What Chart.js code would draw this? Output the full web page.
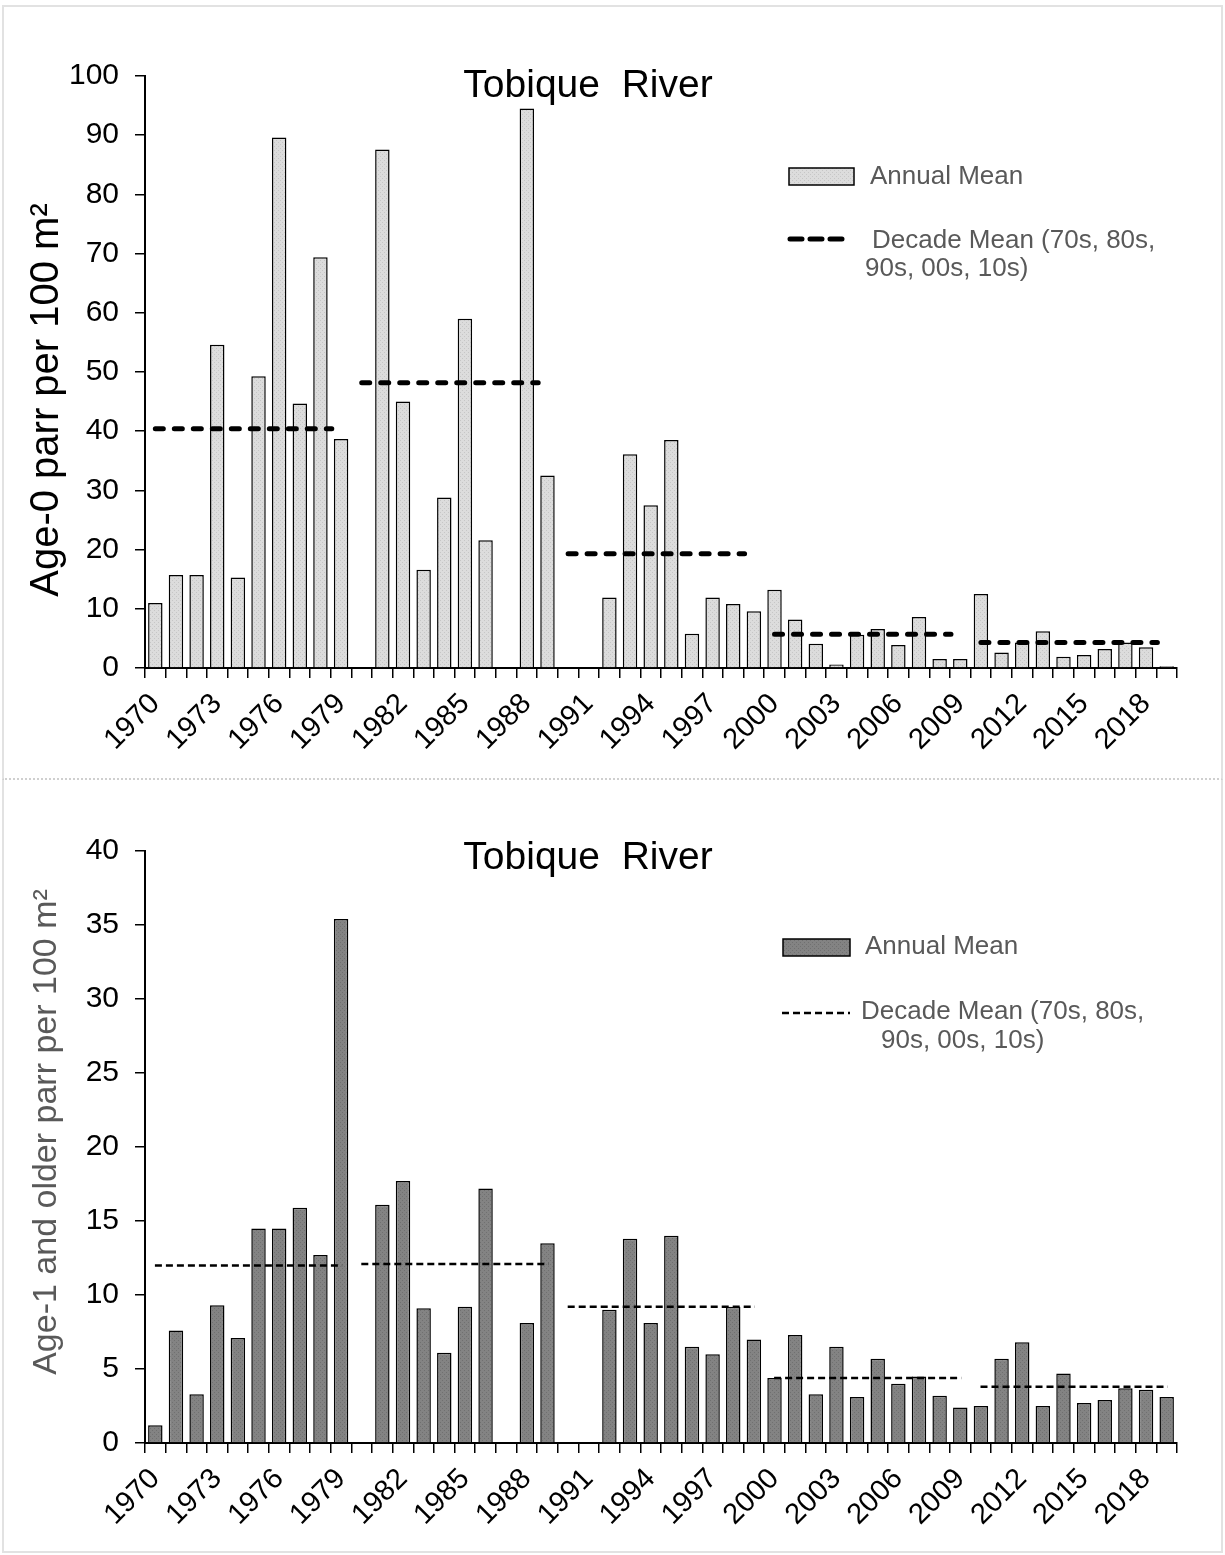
<!DOCTYPE html>
<html>
<head>
<meta charset="utf-8">
<title>Tobique River parr densities</title>
<script src="https://cdn.jsdelivr.net/npm/chart.js@4.4.1/dist/chart.umd.min.js"></script>
<style>
  body { margin: 0; background: #fff; }
  #wrap { position: relative; width: 1225px; height: 1555px; overflow: hidden; }
  canvas { position: absolute; left: 0; }
  #c1 { top: 0; }
  #c2 { top: 778px; }
  .frame { position: absolute; pointer-events: none; box-sizing: border-box; }
  #f1 { left: 2px; top: 5px; width: 1221px; height: 775px;
        border: 2px solid #e2e2e2; border-bottom: 2px dotted #cfcfcf; }
  #f2 { left: 2px; top: 780px; width: 1221px; height: 773px;
        border: 2px solid #e2e2e2; border-top: none; }
</style>
</head>
<body>
<div id="wrap">
  <canvas id="c1" width="1225" height="778"></canvas>
  <canvas id="c2" width="1225" height="777"></canvas>
  <div class="frame" id="f1"></div>
  <div class="frame" id="f2"></div>
</div>
<script>
// Survey years (category axis)
const years = [
  1970, 1971, 1972, 1973, 1974, 1975, 1976, 1977, 1978, 1979,
  1980, 1981, 1982, 1983, 1984, 1985, 1986, 1987, 1988, 1989,
  1990, 1991, 1992, 1993, 1994, 1995, 1996, 1997, 1998, 1999,
  2000, 2001, 2002, 2003, 2004, 2005, 2006, 2007, 2008, 2009,
  2010, 2011, 2012, 2013, 2014, 2015, 2016, 2017, 2018, 2019
];

// Age-0 parr per 100 m² (annual mean); null = no survey
const age0Annual = [
  11.0, 15.7, 15.7, 54.6, 15.3, 49.3, 89.6, 44.7, 69.4, 38.7,
  null, 87.6, 45.0, 16.6, 28.8, 59.0, 21.6, null, 94.5, 32.5,
  null, null, 11.9, 36.1, 27.5, 38.5, 5.8, 11.9, 10.8, 9.6,
  13.2, 8.2, 4.1, 0.6, 5.6, 6.6, 3.9, 8.6, 1.5, 1.5,
  12.5, 2.6, 4.3, 6.2, 1.9, 2.2, 3.2, 4.3, 3.5, 0.3
];

// Age-1 and older parr per 100 m² (annual mean)
const age1Annual = [
  1.2, 7.6, 3.3, 9.3, 7.1, 14.5, 14.5, 15.9, 12.7, 35.4,
  null, 16.1, 17.7, 9.1, 6.1, 9.2, 17.2, null, 8.1, 13.5,
  null, null, 9.0, 13.8, 8.1, 14.0, 6.5, 6.0, 9.2, 7.0,
  4.4, 7.3, 3.3, 6.5, 3.1, 5.7, 4.0, 4.5, 3.2, 2.4,
  2.5, 5.7, 6.8, 2.5, 4.7, 2.7, 2.9, 3.7, 3.6, 3.1
];

// Decade means (70s, 80s, 90s, 00s, 10s)
const decadeFirstYears = [1970, 1980, 1990, 2000, 2010];
const age0Decade = [40.4, 48.2, 19.3, 5.7, 4.3];
const age1Decade = [12.0, 12.1, 9.2, 4.4, 3.8];

// Y-axis tick settings
const age0Ticks = { min: 0, max: 100, step: 10 };
const age1Ticks = { min: 0, max: 40, step: 5 };

const FONT = '"Liberation Sans", Arial, Helvetica, sans-serif';

// Fine stippled fill used for the bars
function stipple(base, dot) {
  const c = document.createElement('canvas');
  c.width = 4; c.height = 4;
  const g = c.getContext('2d');
  g.fillStyle = base;
  g.fillRect(0, 0, 4, 4);
  g.fillStyle = dot;
  g.fillRect(0, 0, 1, 1);
  g.fillRect(2, 2, 1, 1);
  return g.createPattern(c, 'repeat');
}

// Horizontal segment for each decade mean, drawn on a hidden linear x axis
function decadeSegments(means, startOff, endOff) {
  return decadeFirstYears.map((y, k) => {
    const i = years.indexOf(y);
    return [{ x: i + startOff, y: means[k] }, { x: i + endOff, y: means[k] }];
  });
}

// Draws the in-plot title, the rotated y-axis title and the legend block
const overlayPlugin = {
  id: 'overlay',
  afterDraw(chart, args, o) {
    const ctx = chart.ctx;
    ctx.save();
    ctx.textBaseline = 'middle';
    ctx.fillStyle = '#000';
    ctx.font = '39px ' + FONT;
    ctx.textAlign = 'center';
    ctx.fillText(o.title, o.titleX, o.titleY);

    // y-axis title
    ctx.save();
    ctx.translate(o.yTitle.x, o.yTitle.y);
    ctx.rotate(-Math.PI / 2);
    ctx.font = o.yTitle.size + 'px ' + FONT;
    ctx.fillStyle = o.yTitle.color;
    ctx.textAlign = 'center';
    ctx.fillText(o.yTitle.text, 0, 0);
    ctx.restore();

    // Annual mean swatch
    ctx.fillStyle = o.barFill;
    ctx.fillRect(o.box.x, o.box.y, o.box.w, o.box.h);
    ctx.lineWidth = 1.5;
    ctx.strokeStyle = '#000';
    ctx.strokeRect(o.box.x, o.box.y, o.box.w, o.box.h);

    ctx.font = '26px ' + FONT;
    ctx.textAlign = 'left';
    ctx.fillStyle = '#595959';
    ctx.fillText('Annual Mean', o.t1.x, o.t1.y);

    // Decade mean sample line
    ctx.beginPath();
    ctx.setLineDash(o.dash);
    ctx.lineCap = o.cap;
    ctx.lineWidth = o.lineW;
    ctx.strokeStyle = '#000';
    ctx.moveTo(o.line.x1, o.line.y);
    ctx.lineTo(o.line.x2, o.line.y);
    ctx.stroke();
    ctx.setLineDash([]);

    ctx.fillStyle = '#595959';
    ctx.fillText('Decade Mean (70s, 80s,', o.t2.x, o.t2.y);
    ctx.fillText('90s, 00s, 10s)', o.t3.x, o.t3.y);
    ctx.restore();
  }
};

function buildChart(canvasId, cfg) {
  const segs = decadeSegments(cfg.decade, cfg.segStart, cfg.segEnd);
  const lineSets = segs.map(s => ({
    type: 'line',
    data: s,
    xAxisID: 'xl',
    yAxisID: 'y',
    borderColor: '#000',
    borderWidth: cfg.lineW,
    borderDash: cfg.dash,
    borderCapStyle: cfg.cap,
    pointRadius: 0,
    fill: false,
    order: 0
  }));

  return new Chart(document.getElementById(canvasId), {
    type: 'bar',
    data: {
      labels: years,
      datasets: [{
        type: 'bar',
        xAxisID: 'x',
        yAxisID: 'y',
        data: cfg.annual,
        backgroundColor: cfg.barFill,
        borderColor: '#000',
        borderWidth: 1.5,
        grouped: false,
        categoryPercentage: 1,
        barPercentage: 0.7,
        order: 1
      }].concat(lineSets)
    },
    options: {
      responsive: false,
      animation: false,
      layout: { padding: { top: cfg.padTop, right: 48, left: 0, bottom: 0 } },
      plugins: {
        legend: { display: false },
        tooltip: { enabled: false },
        overlay: cfg.overlay
      },
      scales: {
        x: {
          type: 'category',
          offset: true,
          grid: { display: true, offset: true, drawOnChartArea: false, drawTicks: true,
                  tickLength: 10, color: '#000', lineWidth: 1.5 },
          border: { display: true, color: '#000', width: 2 },
          ticks: {
            autoSkip: false, minRotation: 45, maxRotation: 45, padding: 9,
            color: '#000', font: { family: FONT, size: 29 },
            callback: (v, i) => (i % 3 === 0 ? String(years[i]) : '')
          },
          afterFit: s => { s.height = cfg.xHeight; }
        },
        xl: { type: 'linear', display: false, min: -0.5, max: years.length - 0.5, offset: false },
        y: {
          min: cfg.ticks.min, max: cfg.ticks.max,
          grid: { display: true, drawOnChartArea: false, drawTicks: true,
                  tickLength: 10, color: '#000', lineWidth: 1.5 },
          border: { display: true, color: '#000', width: 2 },
          ticks: { stepSize: cfg.ticks.step, padding: 16, color: '#000',
                   font: { family: FONT, size: 30 } },
          afterFit: s => { s.width = 145; }
        }
      }
    },
    plugins: [overlayPlugin]
  });
}

const lightFill = stipple('#dcdcdc', '#c6c6c6');
const darkFill = stipple('#838383', '#707070');

buildChart('c1', {
  annual: age0Annual,
  decade: age0Decade,
  ticks: age0Ticks,
  barFill: lightFill,
  padTop: 76,
  xHeight: 110,
  segStart: 0,
  segEnd: 8.55,
  lineW: 5,
  dash: [8, 11],
  cap: 'round',
  overlay: {
    title: 'Tobique  River', titleX: 588, titleY: 86,
    yTitle: { text: 'Age-0 parr per 100 m²', x: 47, y: 400, size: 40, color: '#000' },
    barFill: lightFill,
    box: { x: 789, y: 168, w: 65, h: 17 },
    t1: { x: 870, y: 177 },
    line: { x1: 790, x2: 848, y: 239 },
    lineW: 5, dash: [12, 8], cap: 'round',
    t2: { x: 872, y: 241 },
    t3: { x: 865, y: 269 }
  }
});

buildChart('c2', {
  annual: age1Annual,
  decade: age1Decade,
  ticks: age1Ticks,
  barFill: darkFill,
  padTop: 73,
  xHeight: 112,
  segStart: -0.02,
  segEnd: 9.05,
  lineW: 2.5,
  dash: [7, 4],
  cap: 'butt',
  overlay: {
    title: 'Tobique  River', titleX: 588, titleY: 80,
    yTitle: { text: 'Age-1 and older parr per 100 m²', x: 47, y: 354, size: 34, color: '#595959' },
    barFill: darkFill,
    box: { x: 783, y: 161, w: 67, h: 17 },
    t1: { x: 865, y: 169 },
    line: { x1: 782, x2: 850, y: 235 },
    lineW: 2.5, dash: [7, 4], cap: 'butt',
    t2: { x: 861, y: 234 },
    t3: { x: 881, y: 263 }
  }
});
</script>
</body>
</html>
